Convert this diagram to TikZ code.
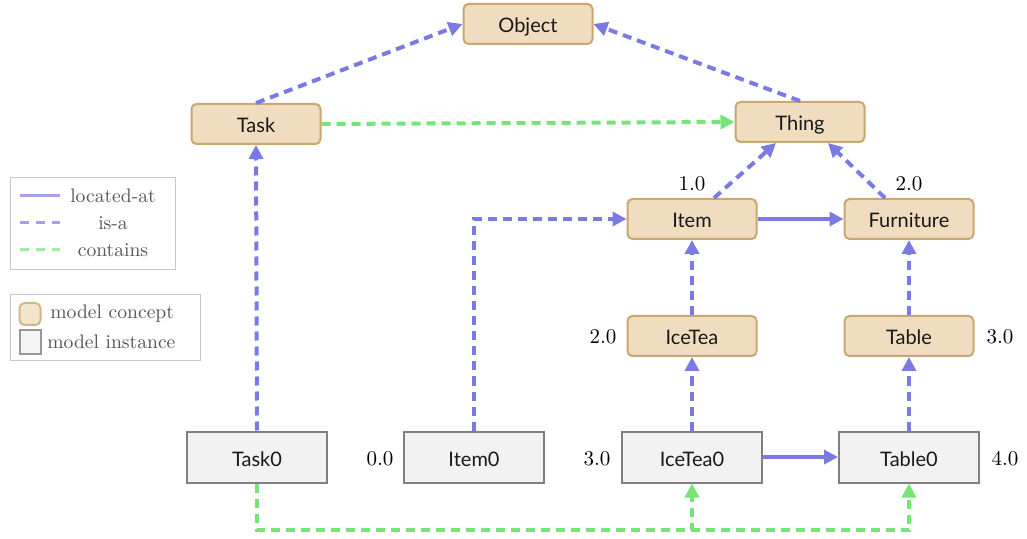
\documentclass[tikz,border=0pt]{standalone}
\usepackage{fontspec}
\setmainfont{Latin Modern Roman}
\newfontfamily\nodefont{Lato}
\usetikzlibrary{arrows.meta,positioning,calc}
\definecolor{conceptfill}{RGB}{240,221,191}
\definecolor{conceptdraw}{RGB}{200,168,112}
\definecolor{instfill}{RGB}{242,242,242}
\definecolor{instdraw}{RGB}{128,128,128}
\definecolor{isablue}{RGB}{122,122,228}
\definecolor{hasgreen}{RGB}{118,228,118}
\definecolor{legtext}{RGB}{85,85,85}
\definecolor{legframe}{RGB}{200,200,200}
\tikzset{
  concept/.style={draw=conceptdraw, fill=conceptfill, line width=1pt, rounded corners=2.5pt,
    minimum width=64.5pt, minimum height=20pt, inner sep=0pt, text height=9pt, text depth=0pt,
    font=\nodefont\fontsize{10}{12}\selectfont, text=black!90},
  instance/.style={draw=instdraw, fill=instfill, line width=1pt,
    minimum width=70pt, minimum height=25.5pt, inner sep=0pt, text height=9pt, text depth=0pt,
    font=\nodefont\fontsize{10}{12}\selectfont, text=black!90},
  tip/.style={-{Triangle[length=7pt,width=7pt]}},
  isa/.style={draw=isablue, line width=2pt, dash pattern=on 4.5pt off 3pt, tip},
  locat/.style={draw=isablue, line width=2pt, tip},
  contains/.style={draw=hasgreen, line width=2pt, dash pattern=on 4.5pt off 3pt, tip},
  weight/.style={font=\fontsize{10.5}{12}\selectfont, inner sep=0pt},
  legtxt/.style={font=\fontsize{9.8}{11}\selectfont, text=legtext, inner sep=0pt},
  legframe/.style={draw=legframe, line width=0.5pt},
}
\begin{document}
\begin{tikzpicture}[x=0.5pt,y=-0.5pt]
\useasboundingbox (0,0) rectangle (1027,539);

% model concepts
\node[concept] (object) at (528,24) {Object};
\node[concept] (task) at (256,124) {Task};
\node[concept] (thing) at (800,122) {Thing};
\node[concept] (item) at (692,219) {Item};
\node[concept] (furniture) at (909,219) {Furniture};
\node[concept] (icetea) at (692,336) {IceTea};
\node[concept] (table) at (909,336) {Table};

% model instances
\node[instance] (task0) at (257,457) {Task0};
\node[instance] (item0) at (474,457) {Item0};
\node[instance] (icetea0) at (692,457) {IceTea0};
\node[instance] (table0) at (909,457) {Table0};

% weights
\node[weight] (w1) at (692,184) {1.0};
\node[weight] (w2) at (909,184) {2.0};
\node[weight] (w3) at (603,337) {2.0};
\node[weight] (w4) at (1000,337) {3.0};
\node[weight] (w5) at (380,459) {0.0};
\node[weight] (w6) at (597,459) {3.0};
\node[weight] (w7) at (1005,459) {4.0};

% is-a
\draw[isa] (task.north) -- (object.west);
\draw[isa] (thing.north) -- (object.east);
\draw[isa] ([xshift=11pt]item.north) -- ([xshift=-12pt]thing.south);
\draw[isa] ([xshift=-12pt]furniture.north) -- ([xshift=14pt]thing.south);
\draw[isa] (icetea.north) -- (item.south);
\draw[isa] (table.north) -- (furniture.south);
\draw[isa] (icetea0.north) -- (icetea.south);
\draw[isa] (table0.north) -- (table.south);
\draw[isa] (task0.north) -- (task.south);
\draw[isa] (item0.north) |- (item.west);

% located-at
\draw[locat] (item.east) -- (furniture.west);
\draw[locat] (icetea0.east) -- (table0.west);

% contains
\draw[contains] (task.east) -- (thing.west);
\coordinate (cbase) at (257,530);
\draw[contains] (task0.south) -- (cbase) -| (icetea0.south);
\draw[contains] (task0.south) -- (cbase) -| (table0.south);

% legend: relations
\node[legframe, minimum width=82.5pt, minimum height=46pt, inner sep=0pt] (leg1) at (92.5,224) {};
\coordinate (la1) at (20,196); \coordinate (lb1) at (60,196);
\coordinate (la2) at (20,223); \coordinate (lb2) at (60,223);
\coordinate (la3) at (20,250); \coordinate (lb3) at (60,250);
\draw[draw=isablue, opacity=0.7, line width=1.5pt] (la1) -- (lb1);
\draw[draw=isablue, opacity=0.7, line width=1.5pt, dash pattern=on 4.5pt off 3.5pt] (la2) -- (lb2);
\draw[draw=hasgreen, opacity=0.7, line width=1.5pt, dash pattern=on 4.5pt off 3.5pt] (la3) -- (lb3);
\node[legtxt] (lt1) at (113,196) {located-at};
\node[legtxt] (lt2) at (113,223) {is-a};
\node[legtxt] (lt3) at (113,250) {contains};

% legend: node kinds
\node[legframe, minimum width=95pt, minimum height=33pt, inner sep=0pt] (leg2) at (105,328) {};
\node[draw=conceptdraw, fill=conceptfill, line width=1pt, opacity=0.8, rounded corners=2.5pt,
      minimum width=10.5pt, minimum height=11pt, inner sep=0pt] (sw1) at (30,314) {};
\node[draw=instdraw, fill=instfill, line width=1pt, opacity=0.8,
      minimum width=10.5pt, minimum height=12pt, inner sep=0pt] (sw2) at (30,342) {};
\node[legtxt, anchor=west] (lt4) at (50,314) {model concept};
\node[legtxt, anchor=west] (lt5) at (47,342) {model instance};
\end{tikzpicture}
\end{document}
